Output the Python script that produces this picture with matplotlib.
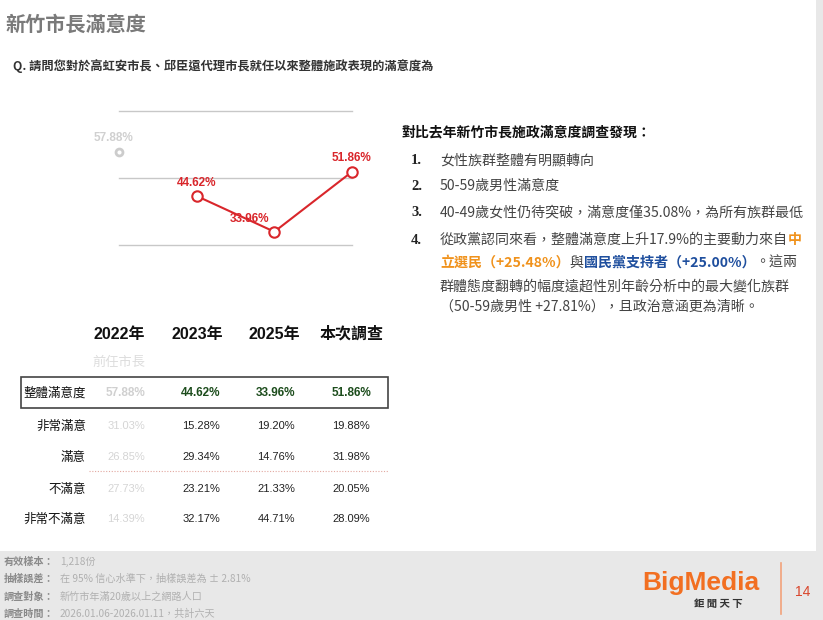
import matplotlib
matplotlib.use('Agg')
import matplotlib.pyplot as plt
from matplotlib.patches import Rectangle
from matplotlib.lines import Line2D

plt.rcParams['font.family'] = ['Noto Sans CJK TC', 'DejaVu Sans']

W, H = 823, 620
CJK = ['Noto Sans CJK TC', 'DejaVu Sans']
LAT = ['Liberation Sans', 'Noto Sans CJK TC']

# 資料
years = ['2022年', '2023年', '2025年', '本次調查']
overall = [57.88, 44.62, 33.96, 51.86]
very_sat = [31.03, 15.28, 19.20, 19.88]
sat = [26.85, 29.34, 14.76, 31.98]
unsat = [27.73, 23.21, 21.33, 20.05]
very_unsat = [14.39, 32.17, 44.71, 28.09]
row_names = ['非常滿意', '滿意', '不滿意', '非常不滿意']
grid_vals = [30, 50, 70]

findings = ['女性族群整體有明顯轉向',
            '50-59歲男性滿意度',
            '40-49歲女性仍待突破，滿意度僅35.08%，為所有族群最低']

footer_labels = ['有效樣本：', '抽樣誤差：', '調查對象：', '調查時間：']
footer_values = ['1,218份', '在 95% 信心水準下，抽樣誤差為 ± 2.81%',
                 '新竹市年滿20歲以上之網路人口', '2026.01.06-2026.01.11，共計六天']


def fx(x):
    return x / W


def fy(y):
    return 1 - y / H


fig = plt.figure(figsize=(W / 100, H / 100), dpi=100)
fig.patch.set_facecolor('white')

# 背景灰帶
fig.add_artist(Rectangle((0, 0), 1, fy(551), transform=fig.transFigure,
                         facecolor='#e8e8e8', edgecolor='none', zorder=0))
fig.add_artist(Rectangle((fx(816), fy(551)), fx(7), 1 - fy(551), transform=fig.transFigure,
                         facecolor='#e8e8e8', edgecolor='none', zorder=0))

# 標題
fig.text(fx(5), fy(24), '新竹市長滿意度', fontsize=14.5, fontweight='bold', color='#7a7a7a',
         va='center', family=CJK)
fig.text(fx(13), fy(66), 'Q. 請問您對於高虹安市長、邱臣遠代理市長就任以來整體施政表現的滿意度為',
         fontsize=8.8, fontweight='bold', color='#333333', va='center', family=CJK)

# 折線圖
ax = fig.add_axes([fx(119), fy(245), fx(352 - 119), (245 - 111) / H])
ax.set_xlim(0, 3)
ax.set_ylim(30, 70)
for g in grid_vals:
    ax.axhline(g, color='#c8c8c8', lw=1, zorder=1, clip_on=False)
ax.axis('off')
xs = list(range(len(years)))
ax.plot(xs[1:], overall[1:], color='#d9262b', lw=1.5, marker='o', ms=7.5,
        mfc='white', mec='#d9262b', mew=1.5, clip_on=False, zorder=3)
ax.plot(xs[0], overall[0], marker='o', ms=5, mfc='white', mec='#cccccc', mew=2,
        clip_on=False, zorder=3)
offsets = [(-6, 14), (0, 13), (-25, 13), (0, 14)]
for i, v in enumerate(overall):
    ax.annotate(f'{v:.2f}%', (xs[i], v), xytext=offsets[i], textcoords='offset pixels',
                ha='center', va='center', fontsize=8.5, fontweight='bold',
                color='#d0d0d0' if i == 0 else '#d9262b', family=LAT, annotation_clip=False)

# 表格
head_x = [119, 197, 274, 352]
col_x = [126, 201, 276, 351]
for x, t in zip(head_x, years):
    fig.text(fx(x), fy(334), t, fontsize=11.5, color='#111111', ha='center', va='center',
             family=LAT, fontweight='bold')
fig.text(fx(92), fy(362), '前任市長', fontsize=9.5, color='#dddddd', va='center', family=CJK)

fig.add_artist(Rectangle((fx(21), fy(408)), fx(388 - 21), (408 - 377) / H,
                         transform=fig.transFigure, facecolor='none',
                         edgecolor='#444444', lw=1.2))
fig.text(fx(86), fy(393), '整體滿意度', fontsize=9, color='#111111', ha='right', va='center',
         family=CJK)
for i, v in enumerate(overall):
    fig.text(fx(col_x[i]), fy(393), f'{v:.2f}%', fontsize=8.5, fontweight='bold',
             color='#d0d0d0' if i == 0 else '#1d4d1d', ha='center', va='center', family=LAT)

rows = [very_sat, sat, unsat, very_unsat]
row_y = [426, 457, 489, 519]
for name, vals, y in zip(row_names, rows, row_y):
    fig.text(fx(86), fy(y), name, fontsize=9, color='#111111', ha='right', va='center',
             family=CJK)
    for i, v in enumerate(vals):
        fig.text(fx(col_x[i]), fy(y), f'{v:.2f}%', fontsize=8,
                 color='#d5d5d5' if i == 0 else '#222222', ha='center', va='center',
                 family=LAT)
fig.add_artist(Line2D([fx(89), fx(388)], [fy(471), fy(471)], transform=fig.transFigure,
                      color='#e2a8a0', lw=0.8, ls=(0, (1, 1.5))))

# 右側文字
FS = 10.1
fig.text(fx(402), fy(132), '對比去年新竹市長施政滿意度調查發現：', fontsize=10, fontweight='bold',
         color='#111111', va='center', family=CJK)
num_y = [160, 186, 212, 240]
for k, y in enumerate(num_y):
    fig.text(fx(411), fy(y), f'{k + 1}.', fontsize=10.5, fontweight='bold', color='#222222',
             va='center', family=['Liberation Serif'])
for t, y in zip(findings, num_y[:3]):
    fig.text(fx(440), fy(y), t, fontsize=FS, color='#444444', va='center', family=CJK)

renderer = fig.canvas.get_renderer()


def run(x, y, parts):
    for txt, col, wt in parts:
        t = fig.text(fx(x), fy(y), txt, fontsize=FS, color=col, fontweight=wt,
                     va='center', family=CJK)
        x += t.get_window_extent(renderer).width


ORANGE = '#f0921c'
BLUE = '#1f4f9e'
GREY = '#444444'
run(440, 240, [('從政黨認同來看，整體滿意度上升17.9%的主要動力來自', GREY, 'normal'),
               ('中', ORANGE, 'bold')])
run(440, 263, [('立選民（+25.48%）', ORANGE, 'bold'), ('與', GREY, 'normal'),
               ('國民黨支持者（+25.00%）', BLUE, 'bold'), ('。這兩', GREY, 'normal')])
run(440, 286, [('群體態度翻轉的幅度遠超性別年齡分析中的最大變化族群', GREY, 'normal')])
run(440, 307, [('（50-59歲男性 +27.81%），且政治意涵更為清晰。', GREY, 'normal')])

# 頁尾
foot_y = [562, 579, 597, 614]
for lab, val, y in zip(footer_labels, footer_values, foot_y):
    fig.text(fx(4), fy(y), lab, fontsize=7.3, fontweight='bold', color='#8a8a8a',
             va='center', family=CJK)
    fig.text(fx(60), fy(y), val, fontsize=7.3, color='#b0b0b0', va='center', family=CJK)

fig.text(fx(701), fy(583), 'BigMedia', fontsize=19, fontweight='bold', color='#f26f21',
         ha='center', va='center', family=['Liberation Sans'])
fig.text(fx(718), fy(604), '鉅 聞 天 下', fontsize=7.5, fontweight='bold', color='#333333',
         ha='center', va='center', family=CJK)
fig.add_artist(Line2D([fx(781), fx(781)], [fy(563), fy(614)], transform=fig.transFigure,
                      color='#f2a27a', lw=1.2))
fig.text(fx(803), fy(592), '14', fontsize=10, color='#d9452b', ha='center', va='center',
         family=['Liberation Sans'])

fig.savefig('out.png', dpi=100)
